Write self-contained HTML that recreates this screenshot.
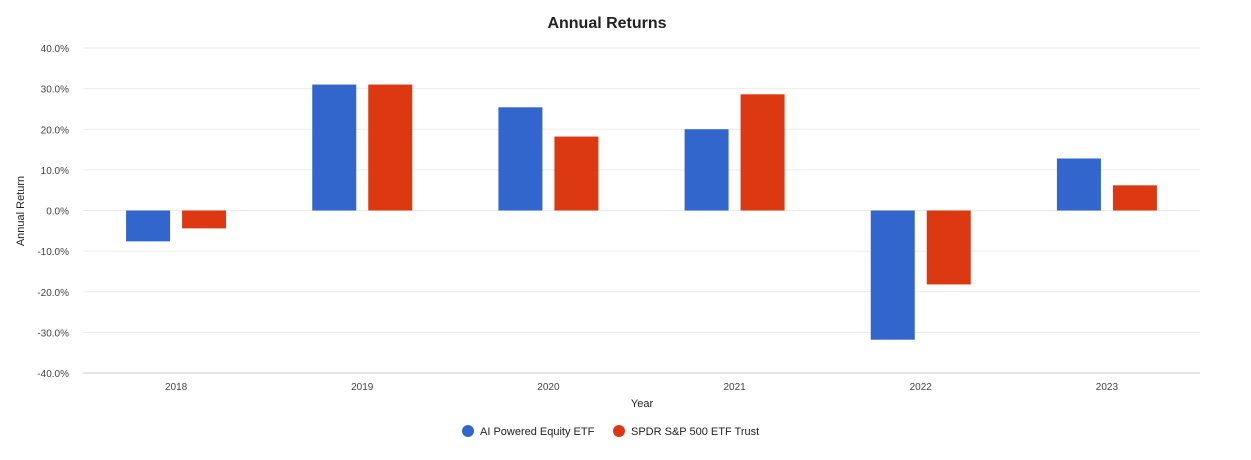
<!DOCTYPE html>
<html><head><meta charset="utf-8"><style>
body{margin:0;background:#fff;font-family:"Liberation Sans",Arial,sans-serif;}
svg text{font-family:"Liberation Sans",Arial,sans-serif;}
</style></head><body>
<svg id="chart" width="1251" height="455">
<text x="607" y="28" text-anchor="middle" font-size="16" font-weight="bold" fill="#222">Annual Returns</text>
<g id="grid"></g><g id="bars"></g><g id="xlabels"></g>
<text transform="translate(24,211) rotate(-90)" text-anchor="middle" font-size="11" fill="#222">Annual Return</text>
<text x="642" y="407" text-anchor="middle" font-size="11" fill="#222">Year</text>
<g>
<g><circle cx="468" cy="431" r="6" fill="#3366cc"/><text x="480" y="435" font-size="11" fill="#222">AI Powered Equity ETF</text></g>
<g><circle cx="619" cy="431" r="6" fill="#dc3912"/><text x="631" y="435" font-size="11" fill="#222">SPDR S&amp;P 500 ETF Trust</text></g>
</g>
</svg>
<script>
const categories=["2018","2019","2020","2021","2022","2023"];
const aiValues=[-7.6,31.0,25.4,20.0,-31.8,12.8];
const spyValues=[-4.4,31.0,18.2,28.6,-18.2,6.2];
const yTicks=[40,30,20,10,0,-10,-20,-30,-40];
const NS="http://www.w3.org/2000/svg";
const plotLeft=83,plotRight=1200,plotTop=48,plotBottom=373;
const yScale=v=>plotTop+(40-v)/80*(plotBottom-plotTop);
const bandW=(plotRight-plotLeft)/categories.length;
const xScale=i=>plotLeft+bandW*(i+0.5);
const gridG=document.getElementById('grid'),barsG=document.getElementById('bars'),xlG=document.getElementById('xlabels');
function mk(tag,attrs,parent){const e=document.createElementNS(NS,tag);for(const k in attrs)e.setAttribute(k,attrs[k]);parent.appendChild(e);return e;}
yTicks.forEach(t=>{
 const l=mk('line',{x1:plotLeft,x2:plotRight,y1:yScale(t),y2:yScale(t),stroke:t===-40?'#ccc':'#ebebeb','stroke-width':1},gridG);
 
 
 const tx=mk('text',{x:69,y:yScale(t)+4,'text-anchor':'end','font-size':10,fill:'#444'},gridG);
 tx.textContent=t.toFixed(1)+'%';
 
 
});
categories.forEach((c,i)=>{
 const cx=xScale(i);
 [[aiValues[i],'#3366cc',cx-50,'bar-ai-'+c],[spyValues[i],'#dc3912',cx+6,'bar-spy-'+c]].forEach(([v,col,bx,name])=>{
  const r=mk('rect',{x:bx,width:44,y:Math.min(yScale(v),yScale(0)),height:Math.abs(yScale(v)-yScale(0)),fill:col},barsG);
  
  
 });
 const t=mk('text',{x:cx,y:390,'text-anchor':'middle','font-size':10,fill:'#444'},xlG);
 t.textContent=c;
 
 
});
</script>
</body></html>
